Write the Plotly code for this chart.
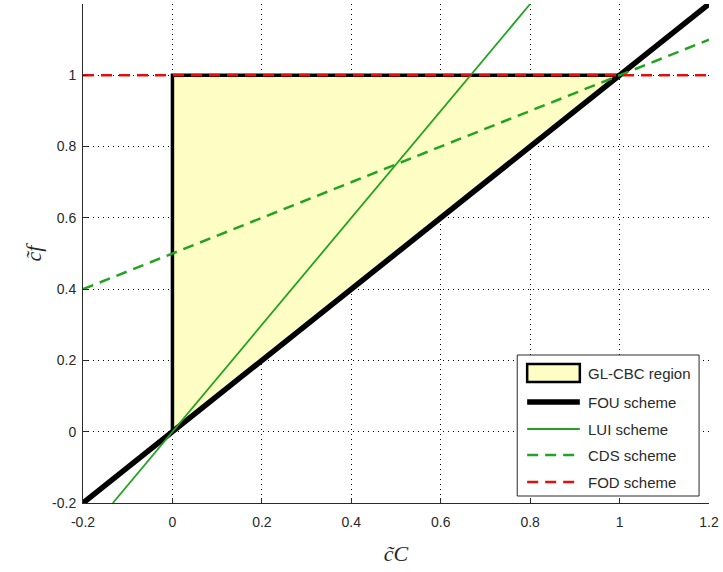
import plotly.graph_objects as go

# Normalized-variable diagram: candidate schemes against the GL-CBC region
region_x = [0, 0, 1, 0]
region_y = [0, 1, 1, 0]

fou_x = [-0.2, 1.2]
fou_y = [-0.2, 1.2]

lui_x = [-0.1333, 0.8]
lui_y = [-0.2, 1.2]

cds_x = [-0.2, 1.2]
cds_y = [0.4, 1.1]

fod_x = [-0.2, 1.2]
fod_y = [1.0, 1.0]

ticks = [-0.2, 0, 0.2, 0.4, 0.6, 0.8, 1, 1.2]
tick_text = ["-0.2", "0", "0.2", "0.4", "0.6", "0.8", "1", "1.2"]

GREEN = "#22a422"
RED = "#e01010"
YELLOW = "#fdfdc4"
INK = "#2a2a2a"
FONT = "Liberation Sans, Arial, sans-serif"
SERIF = "Liberation Serif, Times New Roman, serif"

series = [
    dict(name="GL-CBC region", x=region_x, y=region_y, kind="patch",
         line=dict(color="black", width=3.5)),
    dict(name="FOU scheme", x=fou_x, y=fou_y, kind="line",
         line=dict(color="black", width=5.5)),
    dict(name="LUI scheme", x=lui_x, y=lui_y, kind="line",
         line=dict(color=GREEN, width=1.8)),
    dict(name="CDS scheme", x=cds_x, y=cds_y, kind="line",
         line=dict(color=GREEN, width=2.5, dash="11px,7px")),
    dict(name="FOD scheme", x=fod_x, y=fod_y, kind="line",
         line=dict(color=RED, width=2.5, dash="11px,7px")),
]

fig = go.Figure()
for s in series:
    if s["kind"] == "patch":
        fig.add_trace(go.Scatter(x=s["x"], y=s["y"], fill="toself", mode="lines",
                                 fillcolor=YELLOW, line=s["line"], name=s["name"],
                                 showlegend=False))
    else:
        fig.add_trace(go.Scatter(x=s["x"], y=s["y"], mode="lines", line=s["line"],
                                 name=s["name"], showlegend=False))

# Boxed legend in the lower-right corner (paper coordinates)
L, R, T, B = 83, 713, 4, 503          # plot area in pixels
def px(xp):
    return (xp - L) / (R - L)
def py(yp):
    return (B - yp) / (B - T)

fig.add_shape(type="rect", xref="paper", yref="paper",
              x0=px(520), x1=px(703), y0=py(496), y1=py(355),
              fillcolor="white", line=dict(color=INK, width=1), layer="above")

rows = [373, 402, 429, 455, 482]
for s, yc in zip(series, rows):
    if s["kind"] == "patch":
        fig.add_shape(type="rect", xref="paper", yref="paper",
                      x0=px(530), x1=px(583), y0=py(yc + 9), y1=py(yc - 9),
                      fillcolor=YELLOW, line=dict(color="black", width=2.5),
                      layer="above")
    else:
        ln = s["line"]
        fig.add_shape(type="line", xref="paper", yref="paper",
                      x0=px(530), x1=px(583), y0=py(yc), y1=py(yc),
                      line=dict(color=ln["color"], width=ln["width"],
                                dash=ln.get("dash", "solid")),
                      layer="above")
    fig.add_annotation(xref="paper", yref="paper", x=px(589), y=py(yc),
                       text=s["name"], showarrow=False, xanchor="left",
                       yanchor="middle",
                       font=dict(family=FONT, size=15, color=INK))

axis_common = dict(
    tickmode="array",
    showgrid=True, gridcolor="black", griddash="1px,4px", gridwidth=1,
    zeroline=False, showline=True, linecolor=INK, linewidth=1,
    ticks="inside", ticklen=5, tickcolor=INK,
    tickfont=dict(family=FONT, size=14, color=INK),
)

fig.update_xaxes(range=[-0.2, 1.2], tickvals=ticks, ticktext=tick_text, **axis_common,
                 ticklabelstandoff=6,
                 title=dict(text="<i>c̃C</i>",
                            font=dict(family=SERIF, size=22, color=INK), standoff=16))
fig.update_yaxes(range=[-0.2, 1.2], tickvals=ticks[:-1], ticktext=tick_text[:-1],
                 **axis_common, ticklabelstandoff=3,
                 title=dict(text="<i>c̃f</i>",
                            font=dict(family=SERIF, size=22, color=INK), standoff=4))

fig.update_layout(
    width=723, height=572,
    margin=dict(l=L, r=723 - R, t=T, b=572 - B),
    plot_bgcolor="white", paper_bgcolor="white",
    font=dict(family=FONT, color=INK),
    showlegend=False,
)

fig.write_html("out.html")
